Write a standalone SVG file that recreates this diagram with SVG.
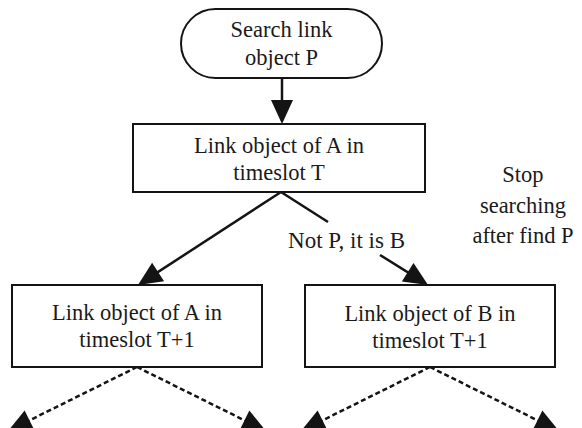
<svg xmlns="http://www.w3.org/2000/svg" width="582" height="428" viewBox="0 0 582 428">
  <style>
    .shape { fill: #ffffff; stroke: #141414; stroke-width: 2; }
    text { font-family: 'Liberation Serif', 'DejaVu Serif', serif; font-size: 22.5px; fill: #1a1a1a; text-anchor: middle; }
    .edge { fill: none; stroke: #141414; stroke-width: 2.5; }
    .dash { stroke-dasharray: 5 3; }
  </style>
  <defs>
    <marker id="head" markerUnits="userSpaceOnUse" markerWidth="24" markerHeight="22" refX="21" refY="11" orient="auto" overflow="visible">
      <path d="M0,0 L24,11 L0,22 z" fill="#141414"/>
    </marker>
  </defs>

  <rect width="582" height="428" fill="#ffffff"/>

  <!-- connectors -->
  <g id="connectors">
    <path class="edge" d="M282,78 L282,121" marker-end="url(#head)"/>
    <path class="edge" d="M281,192 L140.5,283.4" marker-end="url(#head)"/>
    <path class="edge" d="M281,192 L328,222"/>
    <path class="edge" d="M380,255 L425.5,283.4" marker-end="url(#head)"/>
    <path class="edge dash" d="M137,367 L10.7,429.7" marker-end="url(#head)"/>
    <path class="edge dash" d="M137,367 L263.3,429.7" marker-end="url(#head)"/>
    <path class="edge dash" d="M430,367 L303.7,429.7" marker-end="url(#head)"/>
    <path class="edge dash" d="M430,367 L556.3,429.7" marker-end="url(#head)"/>
    <text x="346.5" y="248" font-family="Liberation Serif, serif" style="font-size:23px">Not P, it is B</text>
  </g>

  <!-- start terminal -->
  <g id="start" font-family="Liberation Serif, serif">
    <rect class="shape" x="181" y="9" width="201" height="69" rx="34.5" ry="34.5"/>
    <text x="281.5" y="37">Search link</text>
    <text x="281.5" y="65">object P</text>
  </g>

  <!-- link object of A at T -->
  <g id="linkAT" font-family="Liberation Serif, serif">
    <rect class="shape" x="133" y="124" width="292" height="68"/>
    <text x="279" y="153">Link object of A in</text>
    <text x="279" y="180">timeslot T</text>
  </g>

  <!-- link object of A at T+1 -->
  <g id="linkAT1" font-family="Liberation Serif, serif">
    <rect class="shape" x="12" y="285" width="250" height="82"/>
    <text x="137" y="320">Link object of A in</text>
    <text x="137" y="347">timeslot T+1</text>
  </g>

  <!-- link object of B at T+1 -->
  <g id="linkBT1" font-family="Liberation Serif, serif">
    <rect class="shape" x="305" y="285" width="250" height="82"/>
    <text x="430" y="321">Link object of B in</text>
    <text x="430" y="348">timeslot T+1</text>
  </g>

  <!-- side note -->
  <g id="note" font-family="Liberation Serif, serif">
    <text x="523" y="182">Stop</text>
    <text x="523" y="212.5">searching</text>
    <text x="523" y="243">after find P</text>
  </g>
</svg>
